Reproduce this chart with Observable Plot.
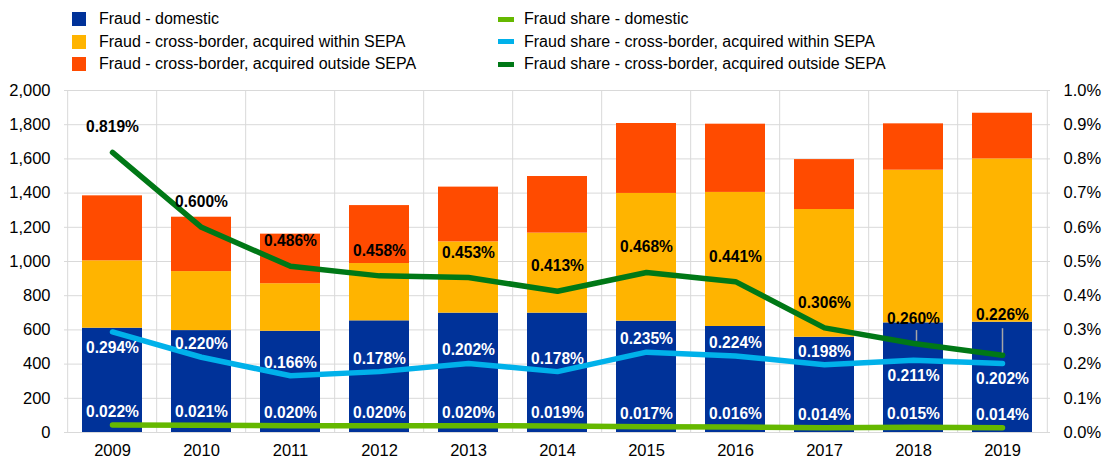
<!DOCTYPE html>
<html>
<head>
<meta charset="utf-8">
<script src="https://cdn.jsdelivr.net/npm/d3@7"></script>
<script src="https://cdn.jsdelivr.net/npm/@observablehq/plot@0.6"></script>
<style>
  html, body { margin: 0; padding: 0; background: #fff; }
  body { width: 1102px; height: 461px; overflow: hidden; font-family: "Liberation Sans", Arial, sans-serif; }
  #legend { position: relative; height: 72px; font-size: 16px; color: #000; }
  .item { position: absolute; white-space: nowrap; line-height: 18px; }
  .sw { position: absolute; }
</style>
</head>
<body>
<div id="legend"></div>
<div id="chart"></div>
<script>
const years = [2009, 2010, 2011, 2012, 2013, 2014, 2015, 2016, 2017, 2018, 2019];
const fraudDomestic = [610, 596, 592, 653, 698, 698, 651, 620, 557, 641, 645];
const fraudWithinSEPA = [394, 345, 278, 335, 417, 468, 747, 784, 747, 893, 955];
const fraudOutsideSEPA = [380, 318, 290, 339, 320, 331, 409, 399, 292, 271, 267];
const shareDomestic = [0.022, 0.021, 0.020, 0.020, 0.020, 0.019, 0.017, 0.016, 0.014, 0.015, 0.014];
const shareWithinSEPA = [0.294, 0.220, 0.166, 0.178, 0.202, 0.178, 0.235, 0.224, 0.198, 0.211, 0.202];
const shareOutsideSEPA = [0.819, 0.600, 0.486, 0.458, 0.453, 0.413, 0.468, 0.441, 0.306, 0.260, 0.226];

const barSeries = ["Fraud - domestic", "Fraud - cross-border, acquired within SEPA", "Fraud - cross-border, acquired outside SEPA"];
const lineSeries = ["Fraud share - domestic", "Fraud share - cross-border, acquired within SEPA", "Fraud share - cross-border, acquired outside SEPA"];
const barColors = ["#003299", "#FFB400", "#FF4B00"];
const lineColors = ["#65B800", "#00B1EA", "#007816"];

const leftTicks = [0, 200, 400, 600, 800, 1000, 1200, 1400, 1600, 1800, 2000];
const rightTicks = [0, 0.1, 0.2, 0.3, 0.4, 0.5, 0.6, 0.7, 0.8, 0.9, 1.0];
const leftMax = 2000, rightMax = 1.0;
const toLeft = v => v / rightMax * leftMax;

// legend
const legend = document.getElementById("legend");
barSeries.forEach((s, i) => {
  const sw = document.createElement("div");
  sw.className = "sw";
  Object.assign(sw.style, {left: "72px", top: (12 + i * 22.5) + "px", width: "14px", height: "14px", background: barColors[i]});
  legend.appendChild(sw);
  const t = document.createElement("div");
  t.className = "item";
  Object.assign(t.style, {left: "99px", top: (10 + i * 22.5) + "px"});
  t.textContent = s;
  legend.appendChild(t);
});
lineSeries.forEach((s, i) => {
  const sw = document.createElement("div");
  sw.className = "sw";
  Object.assign(sw.style, {left: "498px", top: (16.5 + i * 22.5) + "px", width: "16px", height: "5px", background: lineColors[i]});
  legend.appendChild(sw);
  const t = document.createElement("div");
  t.className = "item";
  Object.assign(t.style, {left: "524px", top: (10 + i * 22.5) + "px"});
  t.textContent = s;
  legend.appendChild(t);
});

// data tables
const barData = [];
years.forEach((y, i) => {
  barData.push({year: y, series: barSeries[0], value: fraudDomestic[i]});
  barData.push({year: y, series: barSeries[1], value: fraudWithinSEPA[i]});
  barData.push({year: y, series: barSeries[2], value: fraudOutsideSEPA[i]});
});
const mk = arr => years.map((y, i) => ({year: y, share: arr[i]}));
const dom = mk(shareDomestic), within = mk(shareWithinSEPA), outside = mk(shareOutsideSEPA);
const withinBelow = new Set([2009, 2018, 2019]);

const width = 1102, height = 389, ml = 64, mr = 52, mt = 18, mb = 29;
const step = (width - ml - mr) / years.length;
const fmt = d => d.share.toFixed(3) + "%";
const labelFont = {fontWeight: "bold", fontSize: 15.6};

const chart = Plot.plot({
  width, height,
  marginLeft: ml, marginRight: mr, marginTop: mt, marginBottom: mb,
  style: {fontFamily: '"Liberation Sans", Arial, sans-serif', fontSize: "16.5px", color: "#000", background: "#fff"},
  x: {type: "band", domain: years, paddingInner: 0.33, paddingOuter: 0.165, label: null},
  y: {domain: [0, leftMax], label: null},
  color: {domain: barSeries, range: barColors},
  marks: [
    Plot.ruleY(leftTicks, {stroke: "#d9d9d9", strokeWidth: 1}),
    Plot.ruleX(years, {x: d => d, dx: -step / 2, stroke: "#d9d9d9", strokeWidth: 1}),
    Plot.ruleX(years.slice(-1), {x: d => d, dx: step / 2, stroke: "#d9d9d9", strokeWidth: 1}),
    Plot.barY(barData, {x: "year", y: "value", fill: "series"}),
    Plot.axisX({tickSize: 0, tickPadding: 12, fontSize: 16.5, tickFormat: d => String(d)}),
    Plot.axisY(leftTicks, {anchor: "left", tickSize: 0, tickPadding: 14, fontSize: 16.5, tickFormat: d3.format(",")}),
    Plot.axisY(leftTicks, {anchor: "right", tickSize: 0, tickPadding: 13, fontSize: 16.5, tickFormat: d => (d / leftMax * rightMax).toFixed(1) + "%"}),
    Plot.line(dom, {x: "year", y: d => toLeft(d.share), stroke: lineColors[0], strokeWidth: 5.5}),
    Plot.line(within, {x: "year", y: d => toLeft(d.share), stroke: lineColors[1], strokeWidth: 5.5}),
    Plot.line(outside, {x: "year", y: d => toLeft(d.share), stroke: lineColors[2], strokeWidth: 5.5}),
    Plot.ruleX(outside.filter(d => d.year === 2019), {x: "year", y1: d => toLeft(d.share), y2: d => toLeft(d.share) + 155, stroke: "#a6a6a6", strokeWidth: 1.5}),
    Plot.ruleX(outside.filter(d => d.year === 2018), {x: "year", dx: 3, y1: d => toLeft(d.share) + 14, y2: d => toLeft(d.share) + 76, stroke: "#a6a6a6", strokeWidth: 1.5}),
    Plot.line(outside.filter(d => d.year >= 2019), {x: "year", y: d => toLeft(d.share), stroke: lineColors[2], strokeWidth: 5.5}),
    Plot.text(dom, {x: "year", y: d => toLeft(d.share), text: fmt, dy: -13, fill: "white", ...labelFont}),
    Plot.text(within.filter(d => !withinBelow.has(d.year)), {x: "year", y: d => toLeft(d.share), text: fmt, dy: -13, fill: "white", ...labelFont}),
    Plot.text(within.filter(d => withinBelow.has(d.year)), {x: "year", y: d => toLeft(d.share), text: fmt, dy: 16, fill: "white", ...labelFont}),
    Plot.text(outside.filter(d => d.year !== 2019), {x: "year", y: d => toLeft(d.share), text: fmt, dy: -25, fill: "black", ...labelFont}),
    Plot.text(outside.filter(d => d.year === 2019), {x: "year", y: d => toLeft(d.share), text: fmt, dy: -40, fill: "black", ...labelFont})
  ]
});
document.getElementById("chart").appendChild(chart);
</script>
</body>
</html>
